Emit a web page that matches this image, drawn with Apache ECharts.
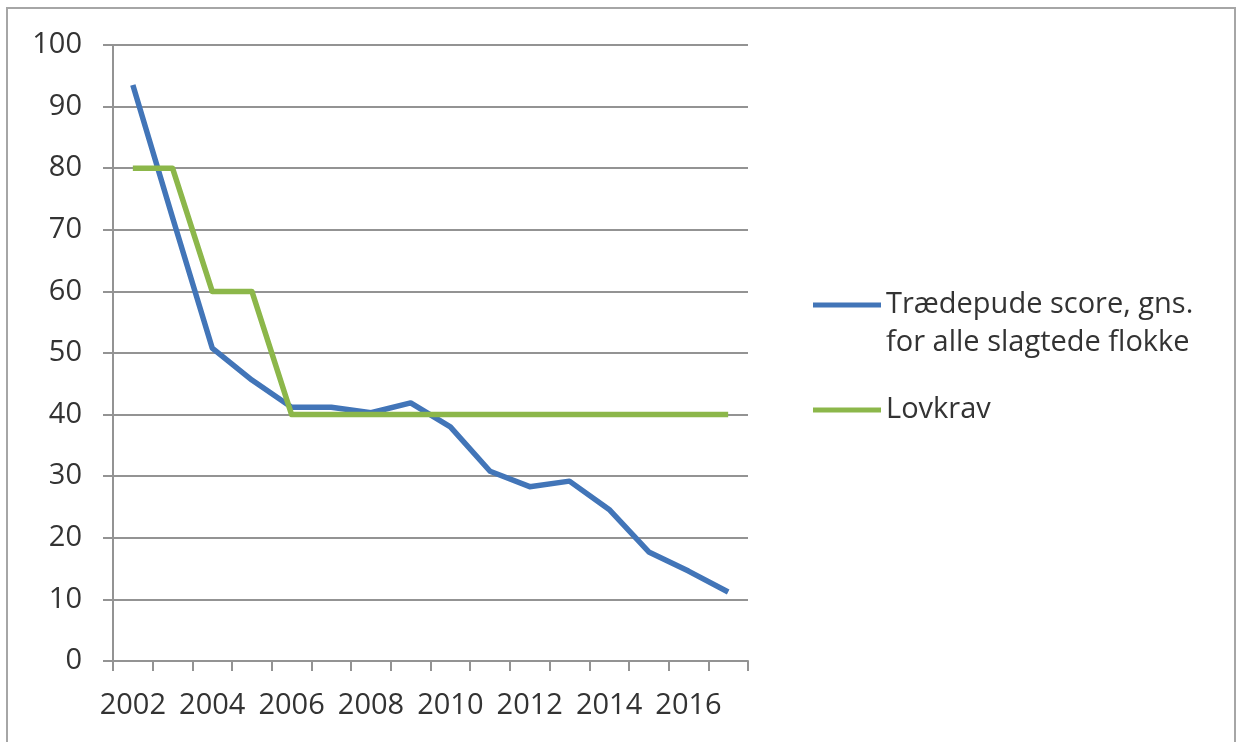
<!DOCTYPE html>
<html>
<head>
<meta charset="utf-8">
<script src="https://cdn.jsdelivr.net/npm/echarts@6/dist/echarts.min.js"></script>
<style>
  html, body { margin: 0; padding: 0; background: #ffffff; }
  #chart { width: 1237px; height: 742px; }
</style>
</head>
<body>
<div id="chart"></div>
<script>
// Years on the category axis
const years = ['2002','2003','2004','2005','2006','2007','2008','2009',
               '2010','2011','2012','2013','2014','2015','2016','2017'];

// Average footpad score for all slaughtered flocks
const footpadScore = [93.5, 72, 50.8, 45.6, 41.2, 41.2, 40.3, 41.9,
                      38.0, 30.8, 28.3, 29.2, 24.6, 17.7, 14.6, 11.2];

// Legal requirement
const legalLimit = [80, 80, 60, 60, 40, 40, 40, 40,
                    40, 40, 40, 40, 40, 40, 40, 40];

// Value axis ticks
const yMin = 0, yMax = 100, yStep = 10;

const seriesNames = ['Trædepude score, gns.\nfor alle slagtede flokke', 'Lovkrav'];

const textColor = '#333333';
const gridColor = '#939393';
const fontFamily = '"Open Sans", "DejaVu Sans", sans-serif';
const fontSize = 29;

const chart = echarts.init(document.getElementById('chart'), null, { renderer: 'canvas' });

const legendBase = {
  orient: 'vertical',
  left: 813,
  padding: 0,
  icon: 'rect',
  itemWidth: 68,
  itemHeight: 5,
  selectedMode: false,
  textStyle: { color: textColor, fontSize: fontSize, lineHeight: 38, fontFamily: fontFamily }
};

chart.setOption({
  animation: false,
  backgroundColor: '#ffffff',
  textStyle: { fontFamily: fontFamily },
  graphic: [{
    type: 'rect',
    shape: { x: 7, y: 8, width: 1228, height: 780 },
    style: { fill: 'none', stroke: '#a6a6a6', lineWidth: 2 },
    silent: true,
    z: -10
  }],
  grid: { left: 113, right: 489, top: 45, bottom: 81, containLabel: false },
  legend: [
    Object.assign({}, legendBase, {
      top: 248,
      data: [seriesNames[0]],
      // leading empty line keeps the first text line level with the swatch
      formatter: function (name) { return '\n' + name; }
    }),
    Object.assign({}, legendBase, {
      top: 391,
      data: [seriesNames[1]]
    })
  ],
  xAxis: {
    type: 'category',
    data: years,
    boundaryGap: true,
    axisLine: { show: true, lineStyle: { color: gridColor, width: 2 } },
    axisTick: { show: true, interval: 0, length: 10, lineStyle: { color: gridColor, width: 2 } },
    axisLabel: { interval: 1, margin: 30, color: textColor, fontSize: fontSize, fontFamily: fontFamily },
    splitLine: { show: false }
  },
  yAxis: {
    type: 'value',
    min: yMin,
    max: yMax,
    interval: yStep,
    axisLine: { show: true, lineStyle: { color: gridColor, width: 2 } },
    axisTick: { show: true, length: 10, lineStyle: { color: gridColor, width: 2 } },
    axisLabel: { margin: 31, color: textColor, fontSize: fontSize, fontFamily: fontFamily },
    splitLine: { show: true, lineStyle: { color: gridColor, width: 2 } }
  },
  series: [{
    name: seriesNames[0],
    type: 'line',
    data: footpadScore,
    symbol: 'none',
    lineStyle: { color: '#4275b8', width: 5.5, join: 'round' },
    itemStyle: { color: '#4275b8' }
  }, {
    name: seriesNames[1],
    type: 'line',
    data: legalLimit,
    symbol: 'none',
    lineStyle: { color: '#8cb74a', width: 5.5, join: 'round' },
    itemStyle: { color: '#8cb74a' }
  }]
});
</script>
</body>
</html>
